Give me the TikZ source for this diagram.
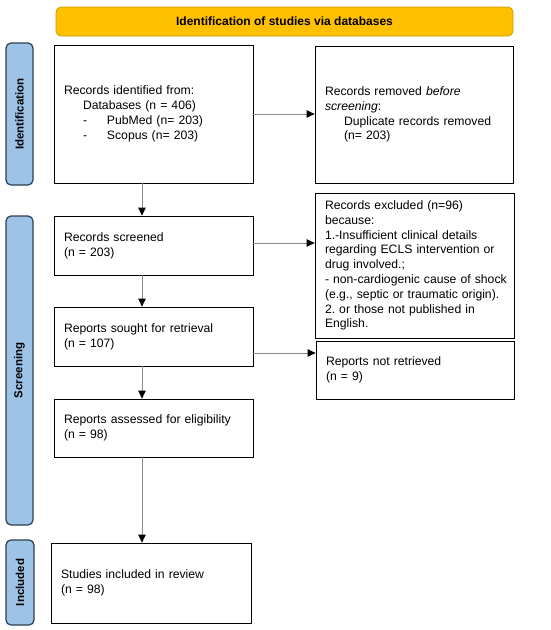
\documentclass[tikz,border=0pt]{standalone}
\usepackage{fontspec}
\setmainfont{Liberation Sans}
\usetikzlibrary{arrows.meta,calc}
\definecolor{bannerfill}{HTML}{FFC000}
\definecolor{bannerdraw}{HTML}{C99A06}
\definecolor{sidefill}{HTML}{9DC3E6}
\definecolor{sidedraw}{HTML}{2E3F50}
\definecolor{arrgray}{HTML}{8A8A8A}
\begin{document}
\begin{tikzpicture}[x=1pt,y=-1pt,
  banner/.style={draw=bannerdraw, fill=bannerfill, rounded corners=5pt, line width=0.8pt,
    minimum width=457pt, minimum height=29pt, font=\fontsize{12}{14}\selectfont\bfseries},
  side/.style={draw=sidedraw, fill=sidefill, rounded corners=5pt, line width=1.2pt,
    minimum width=27pt},
  sidetext/.style={rotate=90, font=\fontsize{11.5}{13}\selectfont\bfseries},
  box/.style={draw=black, line width=0.8pt, inner xsep=10pt, inner ysep=4pt,
    align=left, font=\fontsize{12.2}{14.8}\selectfont},
  arr/.style={draw=arrgray, line width=0.9pt, -{Triangle[length=8pt,width=7.5pt,fill=black,color=black]}}
]
\useasboundingbox (0,0) rectangle (550,630);
\fill[white] (0,0) rectangle (550,630);

\node[banner] (ban) at (284.5,21.5) {Identification of studies via databases};

\node[side, minimum height=142pt] (sid) at (19.5,114) {};
\node[sidetext] (sidt) at (sid.center) {Identification};
\node[side, minimum height=309pt] (sscr) at (19.5,370.5) {};
\node[sidetext] (sscrt) at (sscr.center) {Screening};
\node[side, minimum height=85pt, minimum width=28pt] (sinc) at (20,582.5) {};
\node[sidetext] (sinct) at (sinc.center) {Included};

\node[box, text width=179pt, minimum height=138pt] (id) at (153.5,114)
 {Records identified from:\\
  \hspace*{19pt}Databases (n = 406)\\
  \hspace*{19pt}\makebox[24pt][l]{-}PubMed (n= 203)\\
  \hspace*{19pt}\makebox[24pt][l]{-}Scopus (n= 203)\par\vspace{12pt}};

\node[box, text width=178pt, minimum height=137pt] (rem) at (414,114.5)
 {Records removed \textit{before}\\
  \textit{screening}:\\
  \hspace*{19pt}Duplicate records removed\\
  \hspace*{19pt}(n= 203)\par\vspace{12pt}};

\node[box, text width=179pt, minimum height=59pt] (scr) at (153.5,245.5)
 {Records screened\\(n = 203)};

\node[box, text width=179pt, minimum height=145pt] (exc) at (414.5,265.5)
 {Records excluded (n=96)\\
  because:\\
  1.-Insufficient clinical details\\
  regarding ECLS intervention or\\
  drug involved.;\\
  \mbox{- non-cardiogenic cause of shock}\\
  \mbox{(e.g.,\ septic or traumatic origin).}\\
  2.\ or those not published in\\
  English.};

\node[box, text width=179pt, minimum height=59pt] (sou) at (153.5,336.5)
 {Reports sought for retrieval\\(n = 107)};

\node[box, text width=178pt, minimum height=58pt] (nr) at (415,370)
 {Reports not retrieved\\(n = 9)};

\node[box, text width=179pt, minimum height=58pt] (ass) at (153.5,428)
 {Reports assessed for eligibility\\(n = 98)};

\node[box, text width=180pt, minimum height=80pt] (inc) at (151,583)
 {Studies included in review\\(n = 98)\par\vspace{15pt}};

\coordinate (ax) at (142,0);
\draw[arr] (id.south -| ax) -- (scr.north -| ax);
\draw[arr] (scr.south -| ax) -- (sou.north -| ax);
\draw[arr] (sou.south -| ax) -- (ass.north -| ax);
\draw[arr] (ass.south -| ax) -- (inc.north -| ax);

\draw[arr] (id.east) -- (id.east -| rem.west);
\draw[arr] ([yshift=2.5pt]scr.east) -- ([yshift=2.5pt]scr.east -| exc.west);
\draw[arr] ([yshift=-16.5pt]sou.east) -- ([yshift=-16.5pt]sou.east -| nr.west);
\end{tikzpicture}
\end{document}
